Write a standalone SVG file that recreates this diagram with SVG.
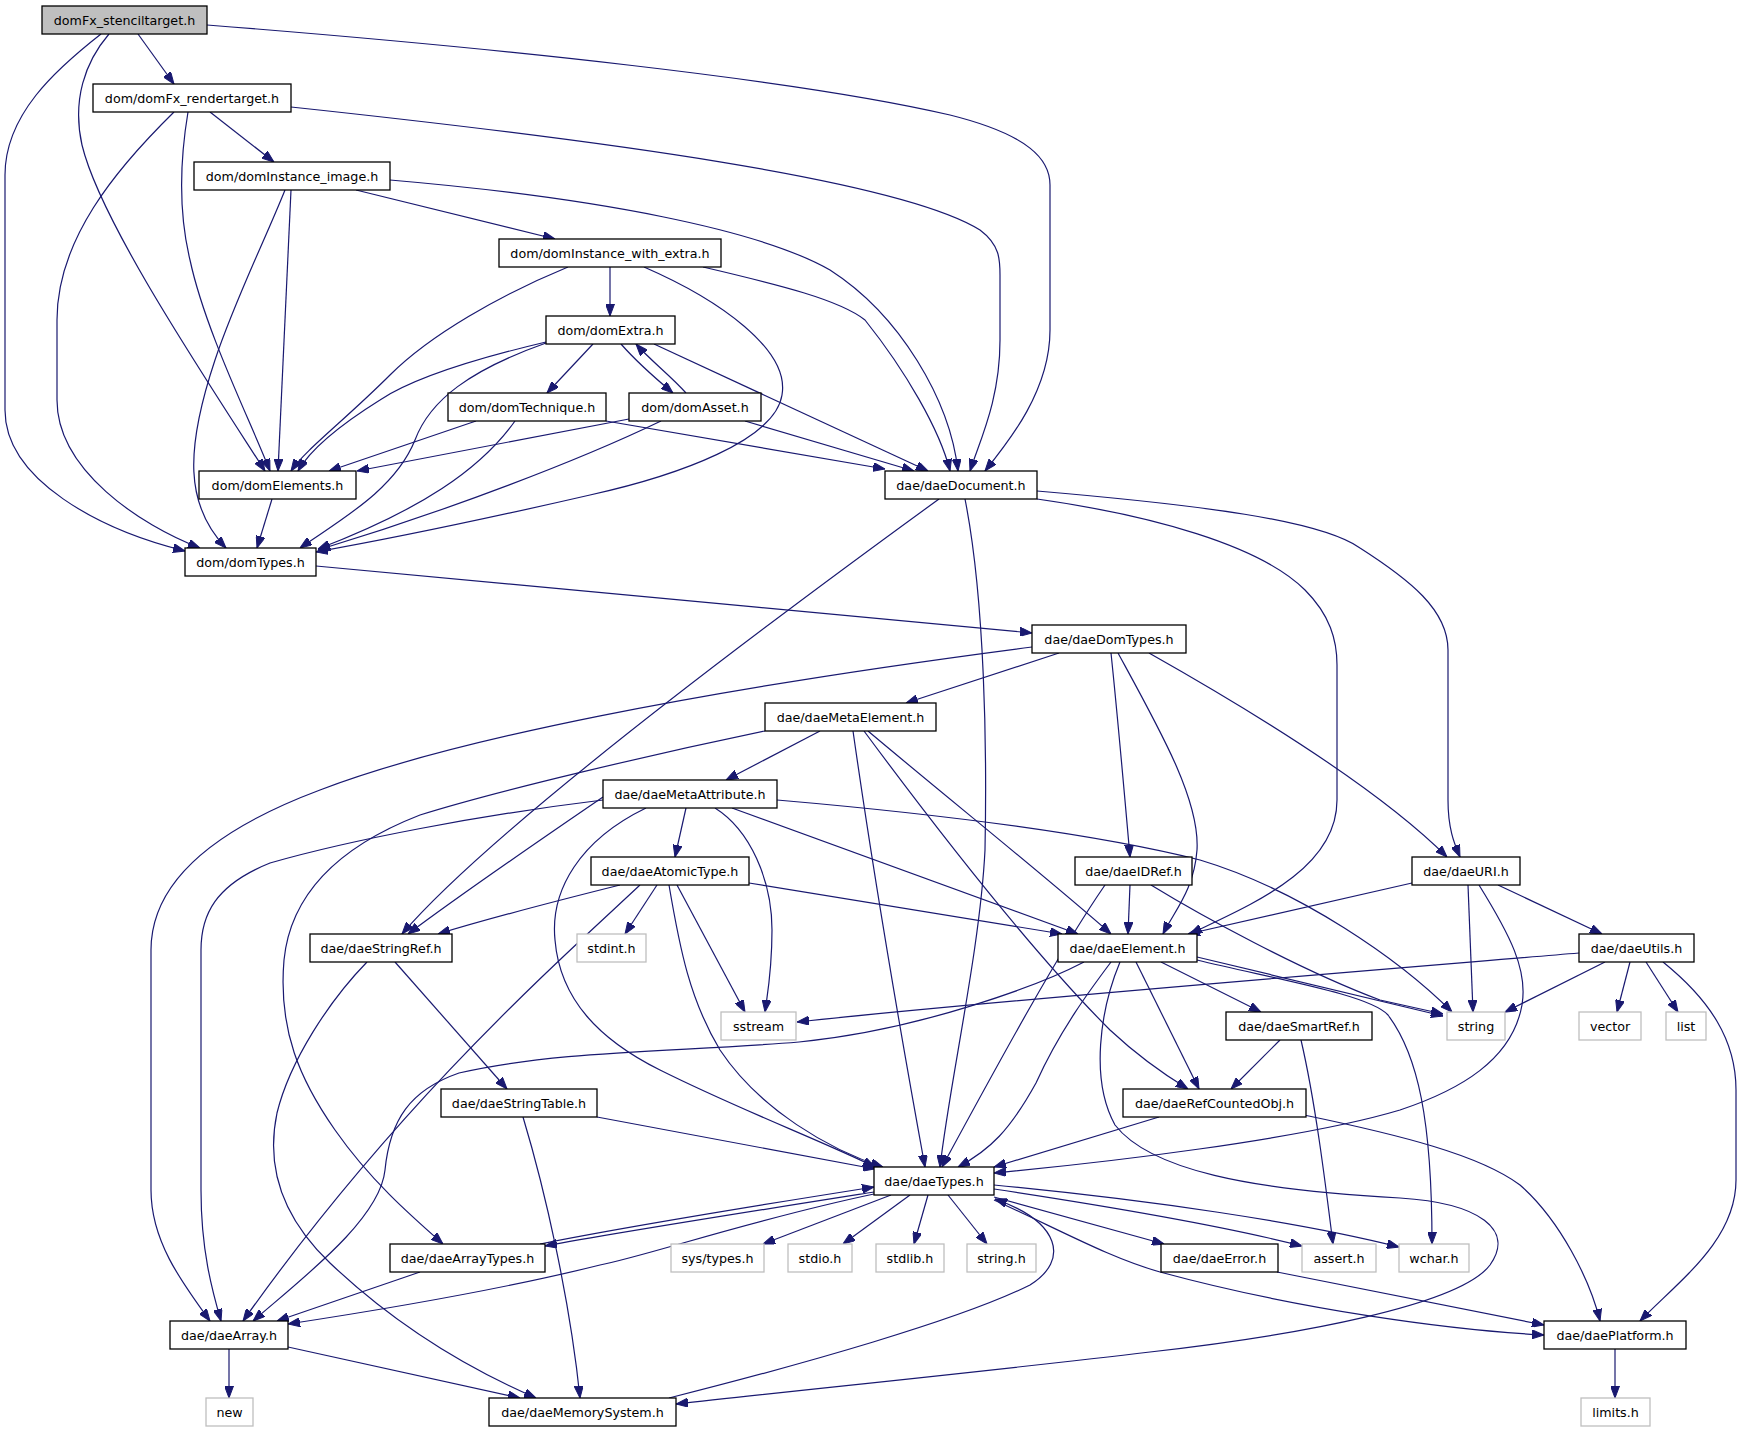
<svg xmlns="http://www.w3.org/2000/svg" width="1743" height="1432" viewBox="0 0 1743 1432">
<style>
.n rect{fill:#fff;stroke:#000;stroke-width:1.3}
.g rect{fill:#fff;stroke:#bfbfbf;stroke-width:1.3}
.r rect{fill:#bfbfbf;stroke:#000;stroke-width:1.3}
text{font-family:"DejaVu Sans","Liberation Sans",sans-serif;font-size:12.7px;text-anchor:middle;fill:#000}
#edges path{fill:none;stroke:#191970;stroke-width:1.2;marker-end:url(#ah)}
</style>
<defs>
<marker id="ah" viewBox="0 0 12 9" refX="12" refY="4.5" markerWidth="12" markerHeight="9" markerUnits="userSpaceOnUse" orient="auto">
<path d="M0,0 L12,4.5 L0,9 z" fill="#191970" stroke="#191970" stroke-width="1"/>
</marker>
</defs>
<rect width="1743" height="1432" fill="#fff"/>
<g id="edges">
<path d="M138,34 L174,84"/>
<path d="M101,34 C55,70 5,115 5,175 L5,410 C5,480 100,530 185,551"/>
<path d="M109,34 C85,62 72,100 82,145 C100,220 200,370 265,471"/>
<path d="M207,25 C500,48 800,80 950,115 C1030,135 1050,160 1050,185 L1050,330 C1050,390 1010,440 985,471"/>
<path d="M210,112 L274,162"/>
<path d="M174,112 C115,170 57,240 57,320 L57,400 C57,470 140,525 200,548"/>
<path d="M188,112 C180,160 178,210 190,260 C205,330 250,420 270,471"/>
<path d="M291,107 C600,140 900,180 980,230 C1000,245 1000,260 1000,275 L1000,340 C1000,400 980,440 970,471"/>
<path d="M356,190 L555,239"/>
<path d="M291,190 L278,471"/>
<path d="M285,190 C265,240 235,300 215,360 C185,450 185,505 226,548"/>
<path d="M390,180 C600,198 760,230 830,270 C900,315 950,400 958,471"/>
<path d="M610,267 L610,316"/>
<path d="M568,267 C500,295 430,335 390,375 C345,420 305,450 291,471"/>
<path d="M644,267 C720,300 790,350 782,395 C775,440 680,475 590,495 C490,518 400,537 316,552"/>
<path d="M703,267 C780,285 840,300 865,320 C905,370 940,430 950,471"/>
<path d="M593,344 L547,393"/>
<path d="M621,344 C635,360 655,378 673,393"/>
<path d="M686,393 C670,375 650,360 636,344"/>
<path d="M546,342 C470,360 410,380 380,400 C340,425 310,450 298,471"/>
<path d="M546,343 C470,370 430,400 415,440 C395,490 340,520 300,548"/>
<path d="M654,344 L928,471"/>
<path d="M476,421 L329,471"/>
<path d="M515,421 C480,470 420,510 318,549"/>
<path d="M606,421 L885,469"/>
<path d="M629,419 L357,471"/>
<path d="M661,421 C580,460 450,510 318,550"/>
<path d="M745,421 L914,471"/>
<path d="M272,499 L257,548"/>
<path d="M939,499 C800,600 500,820 402,934"/>
<path d="M965,499 C985,600 987,750 985,850 C980,950 950,1080 940,1167"/>
<path d="M1037,499 C1150,515 1260,545 1305,590 C1330,615 1337,640 1337,665 L1337,800 C1337,870 1250,905 1190,934"/>
<path d="M1037,491 C1200,505 1320,520 1360,548 C1410,580 1448,610 1448,650 L1448,800 C1448,830 1455,845 1460,857"/>
<path d="M316,566 C500,585 800,610 1032,633"/>
<path d="M1059,653 L906,703"/>
<path d="M1032,647 C700,690 450,740 320,790 C200,835 151,890 151,950 L151,1190 C151,1240 180,1280 210,1321"/>
<path d="M1111,653 C1118,720 1125,800 1130,857"/>
<path d="M1118,653 C1160,730 1200,800 1197,850 C1194,890 1175,910 1163,934"/>
<path d="M1149,653 C1250,710 1380,790 1447,857"/>
<path d="M820,731 L726,780"/>
<path d="M765,731 C650,755 500,790 420,815 C330,850 290,900 284,960 C278,1030 300,1080 335,1130 C370,1180 410,1215 443,1244"/>
<path d="M853,731 C870,850 900,1030 925,1167"/>
<path d="M864,731 C930,820 1030,950 1110,1030 C1140,1058 1165,1075 1188,1089"/>
<path d="M868,731 C950,800 1050,880 1111,934"/>
<path d="M686,808 L675,857"/>
<path d="M603,797 C540,840 460,895 408,934"/>
<path d="M646,808 C580,840 550,890 555,940 C560,1000 600,1040 660,1070 C740,1110 820,1140 875,1167"/>
<path d="M715,808 C750,830 772,880 772,930 C772,970 768,990 765,1012"/>
<path d="M732,808 L1078,934"/>
<path d="M777,800 C950,815 1100,835 1200,860 C1300,890 1400,960 1452,1012"/>
<path d="M603,800 C480,815 350,840 270,863 C215,885 201,915 201,950 L201,1190 C201,1250 212,1290 221,1321"/>
<path d="M620,885 C560,900 500,915 438,934"/>
<path d="M657,885 L625,934"/>
<path d="M669,885 C680,950 690,1000 720,1050 C760,1110 830,1150 883,1167"/>
<path d="M677,885 L745,1012"/>
<path d="M640,885 C560,960 400,1100 243,1321"/>
<path d="M749,883 L1062,934"/>
<path d="M1130,885 L1128,934"/>
<path d="M1105,885 C1060,950 1000,1060 942,1167"/>
<path d="M1151,885 C1200,915 1300,970 1380,1000 L1443,1014"/>
<path d="M1412,883 L1188,934"/>
<path d="M1468,885 L1473,1012"/>
<path d="M1498,885 L1602,934"/>
<path d="M1479,885 C1510,935 1528,970 1522,1005 C1512,1060 1460,1090 1400,1110 C1300,1140 1100,1163 994,1173"/>
<path d="M395,962 L507,1089"/>
<path d="M367,962 C330,1000 290,1060 277,1113 C265,1170 285,1220 330,1263 C390,1320 460,1365 536,1398"/>
<path d="M1161,962 L1261,1012"/>
<path d="M1136,962 C1160,1010 1180,1050 1199,1089"/>
<path d="M1111,962 C1090,990 1060,1030 1036,1083 C1010,1130 990,1150 958,1167"/>
<path d="M1084,962 C1040,985 920,1030 799,1042 C680,1052 560,1050 459,1073 C410,1090 390,1120 385,1170 C380,1220 300,1280 253,1321"/>
<path d="M1197,957 L1443,1016"/>
<path d="M1197,960 C1280,980 1370,995 1388,1015 C1418,1055 1432,1120 1432,1244"/>
<path d="M1120,962 C1100,1010 1090,1080 1115,1125 C1150,1170 1250,1190 1400,1198 C1480,1203 1515,1230 1490,1265 C1460,1305 1300,1335 1150,1352 C1000,1370 800,1390 676,1404"/>
<path d="M1579,953 C1400,968 1000,1000 797,1022"/>
<path d="M1605,962 L1505,1012"/>
<path d="M1630,962 L1617,1012"/>
<path d="M1646,962 L1678,1012"/>
<path d="M1663,962 C1710,1000 1736,1040 1736,1090 L1736,1180 C1736,1240 1680,1280 1640,1321"/>
<path d="M1280,1040 L1231,1089"/>
<path d="M1301,1040 C1315,1100 1325,1180 1333,1244"/>
<path d="M597,1117 L875,1169"/>
<path d="M523,1117 C545,1190 570,1300 580,1398"/>
<path d="M1159,1117 L994,1167"/>
<path d="M1304,1115 C1400,1135 1480,1155 1520,1185 C1560,1220 1590,1280 1600,1321"/>
<path d="M874,1192 C760,1210 620,1232 545,1246"/>
<path d="M540,1244 C620,1228 760,1205 874,1187"/>
<path d="M891,1195 L763,1244"/>
<path d="M910,1195 L843,1244"/>
<path d="M928,1195 L914,1244"/>
<path d="M948,1195 L987,1244"/>
<path d="M994,1197 L1164,1244"/>
<path d="M994,1189 C1100,1205 1220,1225 1302,1246"/>
<path d="M994,1185 C1150,1200 1300,1222 1399,1247"/>
<path d="M994,1200 C1060,1230 1110,1258 1160,1272 C1300,1310 1450,1330 1544,1335"/>
<path d="M669,1398 C800,1365 960,1320 1030,1285 C1070,1260 1060,1222 995,1199"/>
<path d="M874,1194 C750,1220 650,1255 600,1265 C500,1290 380,1310 288,1324"/>
<path d="M420,1272 L277,1321"/>
<path d="M229,1349 L229,1398"/>
<path d="M288,1347 L520,1398"/>
<path d="M1277,1272 L1544,1325"/>
<path d="M1615,1349 L1615,1398"/>
</g>
<g id="n_domFx_stenciltarget" class="r"><rect x="42" y="6" width="165" height="28"/><text x="124.5" y="25">domFx_stenciltarget.h</text></g>
<g id="n_domFx_rendertarget" class="n"><rect x="93" y="84" width="198" height="28"/><text x="192" y="103">dom/domFx_rendertarget.h</text></g>
<g id="n_domInstance_image" class="n"><rect x="194" y="162" width="196" height="28"/><text x="292" y="181">dom/domInstance_image.h</text></g>
<g id="n_domInstance_with_extra" class="n"><rect x="499" y="239" width="222" height="28"/><text x="610" y="258">dom/domInstance_with_extra.h</text></g>
<g id="n_domExtra" class="n"><rect x="546" y="316" width="129" height="28"/><text x="610.5" y="335">dom/domExtra.h</text></g>
<g id="n_domTechnique" class="n"><rect x="448" y="393" width="158" height="28"/><text x="527" y="412">dom/domTechnique.h</text></g>
<g id="n_domAsset" class="n"><rect x="629" y="393" width="132" height="28"/><text x="695" y="412">dom/domAsset.h</text></g>
<g id="n_domElements" class="n"><rect x="199" y="471" width="157" height="28"/><text x="277.5" y="490">dom/domElements.h</text></g>
<g id="n_daeDocument" class="n"><rect x="885" y="471" width="152" height="28"/><text x="961" y="490">dae/daeDocument.h</text></g>
<g id="n_domTypes" class="n"><rect x="185" y="548" width="131" height="28"/><text x="250.5" y="567">dom/domTypes.h</text></g>
<g id="n_daeDomTypes" class="n"><rect x="1032" y="625" width="154" height="28"/><text x="1109" y="644">dae/daeDomTypes.h</text></g>
<g id="n_daeMetaElement" class="n"><rect x="765" y="703" width="171" height="28"/><text x="850.5" y="722">dae/daeMetaElement.h</text></g>
<g id="n_daeMetaAttribute" class="n"><rect x="603" y="780" width="174" height="28"/><text x="690" y="799">dae/daeMetaAttribute.h</text></g>
<g id="n_daeAtomicType" class="n"><rect x="591" y="857" width="158" height="28"/><text x="670" y="876">dae/daeAtomicType.h</text></g>
<g id="n_daeIDRef" class="n"><rect x="1075" y="857" width="117" height="28"/><text x="1133.5" y="876">dae/daeIDRef.h</text></g>
<g id="n_daeURI" class="n"><rect x="1412" y="857" width="108" height="28"/><text x="1466" y="876">dae/daeURI.h</text></g>
<g id="n_daeStringRef" class="n"><rect x="310" y="934" width="142" height="28"/><text x="381" y="953">dae/daeStringRef.h</text></g>
<g id="n_stdint" class="g"><rect x="577" y="934" width="69" height="28"/><text x="611.5" y="953">stdint.h</text></g>
<g id="n_daeElement" class="n"><rect x="1058" y="934" width="139" height="28"/><text x="1127.5" y="953">dae/daeElement.h</text></g>
<g id="n_daeUtils" class="n"><rect x="1579" y="934" width="115" height="28"/><text x="1636.5" y="953">dae/daeUtils.h</text></g>
<g id="n_sstream" class="g"><rect x="721" y="1012" width="75" height="28"/><text x="758.5" y="1031">sstream</text></g>
<g id="n_string" class="g"><rect x="1447" y="1012" width="58" height="28"/><text x="1476" y="1031">string</text></g>
<g id="n_vector" class="g"><rect x="1579" y="1012" width="62" height="28"/><text x="1610" y="1031">vector</text></g>
<g id="n_list" class="g"><rect x="1666" y="1012" width="40" height="28"/><text x="1686" y="1031">list</text></g>
<g id="n_daeSmartRef" class="n"><rect x="1226" y="1012" width="146" height="28"/><text x="1299" y="1031">dae/daeSmartRef.h</text></g>
<g id="n_daeStringTable" class="n"><rect x="441" y="1089" width="156" height="28"/><text x="519" y="1108">dae/daeStringTable.h</text></g>
<g id="n_daeRefCountedObj" class="n"><rect x="1123" y="1089" width="183" height="28"/><text x="1214.5" y="1108">dae/daeRefCountedObj.h</text></g>
<g id="n_daeTypes" class="n"><rect x="874" y="1167" width="120" height="28"/><text x="934" y="1186">dae/daeTypes.h</text></g>
<g id="n_daeArrayTypes" class="n"><rect x="390" y="1244" width="155" height="28"/><text x="467.5" y="1263">dae/daeArrayTypes.h</text></g>
<g id="n_systypes" class="g"><rect x="671" y="1244" width="93" height="28"/><text x="717.5" y="1263">sys/types.h</text></g>
<g id="n_stdio" class="g"><rect x="788" y="1244" width="64" height="28"/><text x="820" y="1263">stdio.h</text></g>
<g id="n_stdlib" class="g"><rect x="876" y="1244" width="68" height="28"/><text x="910" y="1263">stdlib.h</text></g>
<g id="n_stringh" class="g"><rect x="967" y="1244" width="69" height="28"/><text x="1001.5" y="1263">string.h</text></g>
<g id="n_daeError" class="n"><rect x="1161" y="1244" width="117" height="28"/><text x="1219.5" y="1263">dae/daeError.h</text></g>
<g id="n_assert" class="g"><rect x="1302" y="1244" width="74" height="28"/><text x="1339" y="1263">assert.h</text></g>
<g id="n_wchar" class="g"><rect x="1399" y="1244" width="70" height="28"/><text x="1434" y="1263">wchar.h</text></g>
<g id="n_daeArray" class="n"><rect x="170" y="1321" width="118" height="28"/><text x="229" y="1340">dae/daeArray.h</text></g>
<g id="n_new" class="g"><rect x="206" y="1398" width="47" height="28"/><text x="229.5" y="1417">new</text></g>
<g id="n_daeMemorySystem" class="n"><rect x="489" y="1398" width="187" height="28"/><text x="582.5" y="1417">dae/daeMemorySystem.h</text></g>
<g id="n_daePlatform" class="n"><rect x="1544" y="1321" width="142" height="28"/><text x="1615" y="1340">dae/daePlatform.h</text></g>
<g id="n_limits" class="g"><rect x="1581" y="1398" width="69" height="28"/><text x="1615.5" y="1417">limits.h</text></g>
</svg>
